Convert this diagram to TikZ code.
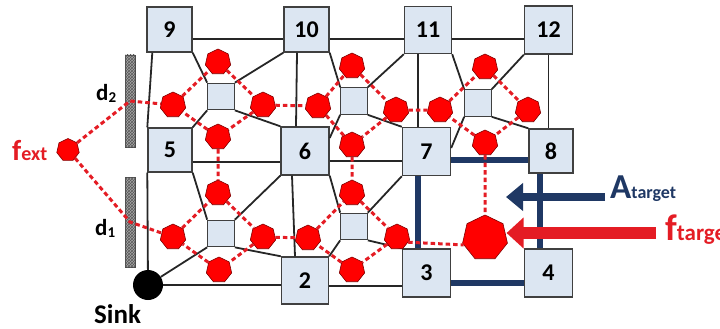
\documentclass[tikz,border=0pt]{standalone}
\usepackage{fontspec}
\setmainfont{Carlito}
\usetikzlibrary{arrows.meta,shapes.geometric,patterns}
\definecolor{cellblue}{RGB}{220,230,242}
\definecolor{navy}{RGB}{31,56,100}
\definecolor{sred}{RGB}{255,0,0}
\definecolor{lred}{RGB}{228,28,36}

\begin{document}
\begin{tikzpicture}[x=1pt,y=-1pt,every node/.style={inner sep=0pt},
 box/.style={draw=black!75,line width=1.4pt,fill=cellblue,minimum size=47pt,font=\fontsize{24}{24}\selectfont\bfseries},
 head/.style={draw=black!75,line width=1.2pt,fill=cellblue,minimum size=26.5pt},
 sensor/.style={regular polygon,regular polygon sides=7,draw=black!50!red,line width=.6pt,fill=sred,minimum size=26pt},
 cell/.style={black!85,line width=1.8pt},
 link/.style={lred,line width=3pt,dash pattern=on 4.5pt off 3pt},
 tie/.style={navy,line width=6.5pt},
 wall/.style={draw=black!70,line width=.8pt,fill=black!35,minimum width=10pt,postaction={pattern=crosshatch,pattern color=black!65}},
 lab/.style={anchor=base west,font=\bfseries}]
\useasboundingbox(0,0) rectangle(720,329);
% numbered nodes
\node[box,minimum size=45pt](n9) at(169.5,29.5){9};\node[box,minimum size=45pt](n10) at(306.5,29.5){10};
\node[box](n11) at(428,30){11};\node[box,minimum size=48pt](n12) at(548.5,30){12};
\node[box,minimum size=44pt](n5) at(170,150){5};\node[box,minimum size=48pt](n6) at(305,151){6};
\node[box,minimum size=48pt](n7) at(426.5,151.5){7};\node[box,minimum size=44pt](n8) at(551,151){8};
\node[box](n2) at(305,280.5){2};\node[box,minimum size=48pt](n3) at(426.5,273){3};\node[box,minimum size=48pt](n4) at(548.5,273){4};
\node[circle,fill=black,minimum size=30pt](sink) at(148,285){};
% cluster heads
\node[head](h1) at(221,96.5){};\node[head](h2) at(221,233.5){};\node[head](h3) at(354,101){};
\node[head](h4) at(354,226.5){};\node[head](h5) at(478,103){};
% frame
\draw[cell]([yshift=-9.5pt]n9.east)--([yshift=-9.5pt]n10.west)([yshift=-9.5pt]n10.east)--([yshift=-9pt]n11.west)([yshift=-9pt]n11.east)--([yshift=-9pt]n12.west);
\draw[cell](n12.south)--(n12.south |- n8.north);
\draw[cell]([xshift=6pt]n9.south west)--(n5.north west)(n5.south west)--(sink);
\draw[cell](sink)--(sink -| n2.west)([yshift=-5.5pt]n2.east)--([yshift=-5.5pt]n2.east -| n3.west);
\draw[cell]([yshift=-12pt]n5.east)--([yshift=-11pt]n6.west)([yshift=-10pt]n6.east)--([yshift=-10pt]n6.east -| n7.west);
% cells
\draw[cell](n9.south east)--(h1.north west)(h1.north east)--(n10.south west)(h1.south west)--(n5.north east)(h1.south east)--(n6.north west);
\draw[cell](n5.south east)--(h2.north west)(h2.north east)--(n6.south west)(h2.south west)--(sink)(h2.south east)--(n2.north west);
\draw[cell]([xshift=-9.5pt]n10.south)--([xshift=-9pt]n6.north)([xshift=-13pt]n6.south)--([xshift=-10pt]n2.north);
\draw[cell](n10.south east)--(h3.north west)(h3.north east)--(n11.south west)(h3.south west)--([yshift=13pt]n6.east)(h3.south east)--(n7.north west);
\draw[cell]([xshift=-10pt]n11.south)--([xshift=-8.5pt]n7.north);
\draw[cell](n6.south east)--(h4.north west)(h4.north east)--(n7.south west)(h4.south west)--(n2.north east)(h4.south east)--(n3.north west);
\draw[cell](n11.south east)--(h5.north west)(h5.north east)--(n12.south west)(h5.south west)--([yshift=3.5pt]n7.east)(h5.south east)--(n8.north west);
% target area
\draw[tie]([yshift=-8.5pt]n7.east)--([yshift=-8.5pt]n7.east -| n8.west);
\draw[tie]([xshift=-8.5pt]n7.south)--([xshift=-8.5pt]n7.south |- n3.north);
\draw[tie]([xshift=-11pt]n8.south)--([xshift=-11pt]n8.south |- n4.north);
\draw[tie]([yshift=-10pt]n3.east)--([yshift=-10pt]n3.east -| n4.west);
% sensors
\node[sensor](tlN) at(218,62){};\node[sensor](tlW) at(173,105){};\node[sensor](tlE) at(263,105){};\node[sensor](tlS) at(218,137){};
\node[sensor](mtN) at(352,66){};\node[sensor](mtW) at(318,106){};\node[sensor](mtE) at(396,110){};\node[sensor](mtS) at(352,145){};
\node[sensor](rtN) at(485,67){};\node[sensor](rtW) at(440,110){};\node[sensor](rtE) at(528,110){};\node[sensor](rtS) at(485,143){};
\node[sensor](blN) at(218,193){};\node[sensor](blW) at(173,237){};\node[sensor](blE) at(263,237){};\node[sensor](blS) at(219,270){};
\node[sensor](mbN) at(352,193){};\node[sensor](mbW) at(308,238){};\node[sensor](mbE) at(397,237){};\node[sensor](mbS) at(352,270){};
\node[sensor,minimum size=46pt](tgt) at(485,238){};
\node[sensor,minimum size=23pt](ext) at(68,150){};
% walls
\node[wall,minimum height=92pt](w2) at(130,101){};\node[wall,minimum height=90pt](w1) at(130,222){};
% links
\foreach \c in {tl,mt,rt,bl,mb}{\draw[link](\c W)--(\c N)--(\c E)--(\c S)--(\c W);}
\draw[link](ext)--(w2.center)--(tlW);\draw[link](ext)--(w1.center)--(blW);
\draw[link](tlE)--(mtW)(mtE)--(rtW)(tlS)--(blN)(blE)--(mbW)(mtS)--(mbN)(rtS)--(tgt);
\draw[link](mbE.-25)--(tgt.198);
% labels
\node[lab](d2lab) at(96,100){\fontsize{23}{23}\selectfont d\raisebox{-2pt}{\fontsize{15}{15}\selectfont 2}};
\node[lab](d1lab) at(95,235){\fontsize{23}{23}\selectfont d\raisebox{-2pt}{\fontsize{15}{15}\selectfont 1}};
\node[lab](sinklab) at(94,323){\fontsize{27}{27}\selectfont Sink};
\node[lab,text=lred](extlab) at(12,160){\fontsize{29}{29}\selectfont f\fontsize{20}{20}\selectfont ext};
\node[lab,text=navy](alab) at(610,198){\fontsize{35}{35}\selectfont A\fontsize{18}{18}\selectfont target};
\node[lab,text=lred](flab) at(665,240){\fontsize{37}{37}\selectfont f\fontsize{23}{23}\selectfont target};
\coordinate(atip) at(506,197);
\draw[navy,line width=8pt,-{Triangle[length=17pt,width=27pt]}]([shift={(-5pt,1pt)}]alab.base west)--(atip);
\draw[lred,line width=12pt,-{Triangle[length=17pt,width=30pt]}]([shift={(-9pt,7pt)}]flab.base west)--([yshift=5pt]tgt.east);
\end{tikzpicture}
\end{document}
